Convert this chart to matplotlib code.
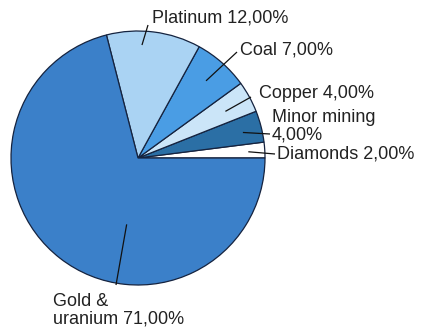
import numpy as np
import matplotlib
matplotlib.use("Agg")
import matplotlib.pyplot as plt

# Share of mining output by sector (percent)
sectors = ["Diamonds", "Minor mining", "Copper", "Coal", "Platinum", "Gold &\nuranium"]
shares = [2.0, 4.0, 4.0, 7.0, 12.0, 71.0]
colors = ["#ffffff", "#2b6fa5", "#cbe5f8", "#4a9de4", "#aad3f3", "#3b80c9"]

W, H = 422, 329
fig = plt.figure(figsize=(W / 100, H / 100), dpi=100)
ax = fig.add_axes([0, 0, 1, 1])

cx, cy, R = 138, H - 158, 127
wedges, _ = ax.pie(shares, colors=colors, startangle=0, counterclock=True,
                   center=(cx, cy), radius=R, frame=True,
                   wedgeprops=dict(edgecolor="#15233f", linewidth=0.9))
ax.set_xlim(0, W)
ax.set_ylim(0, H)
ax.set_aspect("equal")
ax.axis("off")

def label_text(name, val):
    pct = f"{val:.2f}".replace(".", ",") + "%"
    if name == "Minor mining":
        return f"{name}\n{pct}"
    if name.startswith("Gold"):
        return f"Gold &\nuranium {pct}"
    return f"{name} {pct}"

# (position within wedge 0..1, radial fraction, label anchor, leader end)
layout = {
    "Diamonds":     (0.45, 0.87, (277, H - 154), (275, H - 154)),
    "Minor mining": (0.45, 0.85, (272, H - 126), (270, H - 134)),
    "Copper":       (0.45, 0.78, (259, H - 93), (251, H - 97)),
    "Coal":         (0.5, 0.81, (240, H - 50), (237, H - 52)),
    "Platinum":     (0.62, 0.89, (152, H - 18), (148, H - 25)),
    "Gold &\nuranium": (0.61, 0.53, (53, H - 310), (116, H - 285)),
}

font = dict(family=["Liberation Sans", "DejaVu Sans"], fontsize=13, color="#222222")
for w, name, val in zip(wedges, sectors, shares):
    f, rf, txt_pos, end = layout[name]
    ang = np.deg2rad(w.theta1 + f * (w.theta2 - w.theta1))
    p0 = (cx + rf * R * np.cos(ang), cy + rf * R * np.sin(ang))
    ax.plot([p0[0], end[0]], [p0[1], end[1]], color="#111111", lw=0.9,
            solid_capstyle="butt")
    ax.text(txt_pos[0], txt_pos[1], label_text(name, val), ha="left",
            va="center", linespacing=1.0, **font)

fig.savefig("out.png", dpi=100, facecolor="white")
